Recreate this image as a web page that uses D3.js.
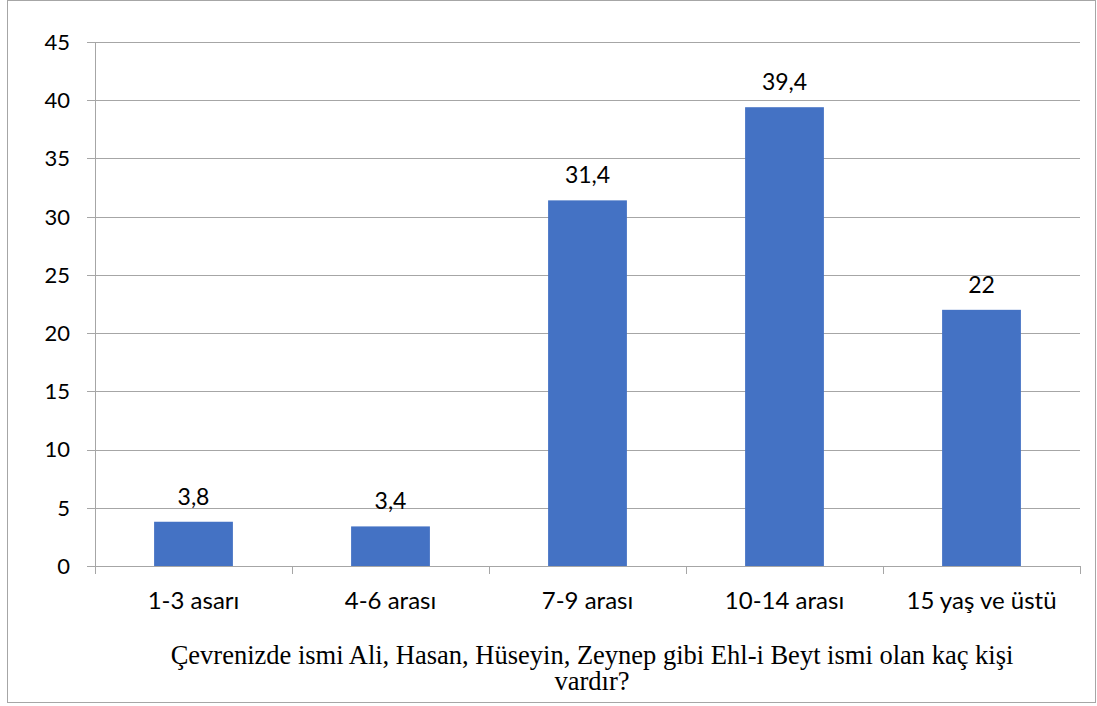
<!DOCTYPE html>
<html><head><meta charset="utf-8">
<script src="https://cdn.jsdelivr.net/npm/d3@7"></script>
<style>body{margin:0;background:#fff}
.serif{font-family:"Liberation Serif","DejaVu Serif","Times New Roman",serif}
.sans{font-family:Lato,"Noto Sans",sans-serif}</style>
</head><body>
<svg id="c" width="1097" height="706"></svg>
<script>
const categories = ["1-3 asarı","4-6 arası","7-9 arası","10-14 arası","15 yaş ve üstü"];
const values = [3.8, 3.4, 31.4, 39.4, 22];
const valueLabels = ["3,8","3,4","31,4","39,4","22"];
const yTicks = [0,5,10,15,20,25,30,35,40,45];
const titleLines = ["Çevrenizde ismi Ali, Hasan, Hüseyin, Zeynep gibi Ehl-i Beyt ismi olan kaç kişi","vardır?"];

const svg = d3.select("#c");
svg.append("rect").attr("x",7.5).attr("y",0.5).attr("width",1088).attr("height",702)
  .attr("fill","#fff").attr("stroke","#a6a6a6").attr("stroke-width",1);

const L=95, R=1080, T=42, B=566;
const x = d3.scaleBand().domain(categories).range([L,R]).paddingInner(0.6).paddingOuter(0.3);
const y = d3.scaleLinear().domain([0,45]).range([B,T]);

// gridlines
svg.append("g").selectAll("line").data(yTicks).join("line")
  .attr("x1",87).attr("x2",R).attr("y1",d=>Math.round(y(d))+0.5).attr("y2",d=>Math.round(y(d))+0.5)
  .attr("stroke","#a6a6a6").attr("stroke-width",1);
// y axis line
svg.append("line").attr("x1",L+0.5).attr("x2",L+0.5).attr("y1",T).attr("y2",B+1).attr("stroke","#a6a6a6");
// y labels
svg.append("g").selectAll("text").data(yTicks).join("text").attr("class","sans")
  .attr("x",70).attr("y",d=>y(d)).attr("dy","0.36em").attr("text-anchor","end")
  .attr("font-size",22).attr("fill","#000").text(d=>d);

// x category boundary ticks
const edges = categories.map(c=>x(c)+x.bandwidth()/2 - x.step()/2).concat([R]);
svg.append("g").selectAll("line").data(edges).join("line")
  .attr("x1",d=>Math.round(d)+0.5).attr("x2",d=>Math.round(d)+0.5).attr("y1",B).attr("y2",B+8)
  .attr("stroke","#a6a6a6");

// bars
svg.append("g").selectAll("rect").data(values).join("rect")
  .attr("x",(d,i)=>x(categories[i])).attr("width",x.bandwidth())
  .attr("y",d=>y(d)).attr("height",d=>B-y(d)).attr("fill","#4472C4");

// value labels
svg.append("g").selectAll("text").data(values).join("text").attr("class","sans")
  .attr("x",(d,i)=>x(categories[i])+x.bandwidth()/2).attr("y",d=>y(d)-17)
  .attr("text-anchor","middle")
  .attr("font-size",23).attr("fill","#000").text((d,i)=>valueLabels[i]);

// category labels
svg.append("g").selectAll("text").data(categories).join("text").attr("class","sans")
  .attr("x",d=>x(d)+x.bandwidth()/2).attr("y",609).attr("text-anchor","middle")
  .attr("font-size",24).attr("fill","#000").text(d=>d);

// title (one text element, two lines)
const title = svg.append("text").attr("class","serif")
  .attr("x",592).attr("y",664).attr("text-anchor","middle")
  .attr("font-size",26.5).attr("fill","#000");
title.selectAll("tspan").data(titleLines).join("tspan")
  .attr("x",592).attr("y",(d,i)=>664+i*26).text(d=>d);
</script>
</body></html>
